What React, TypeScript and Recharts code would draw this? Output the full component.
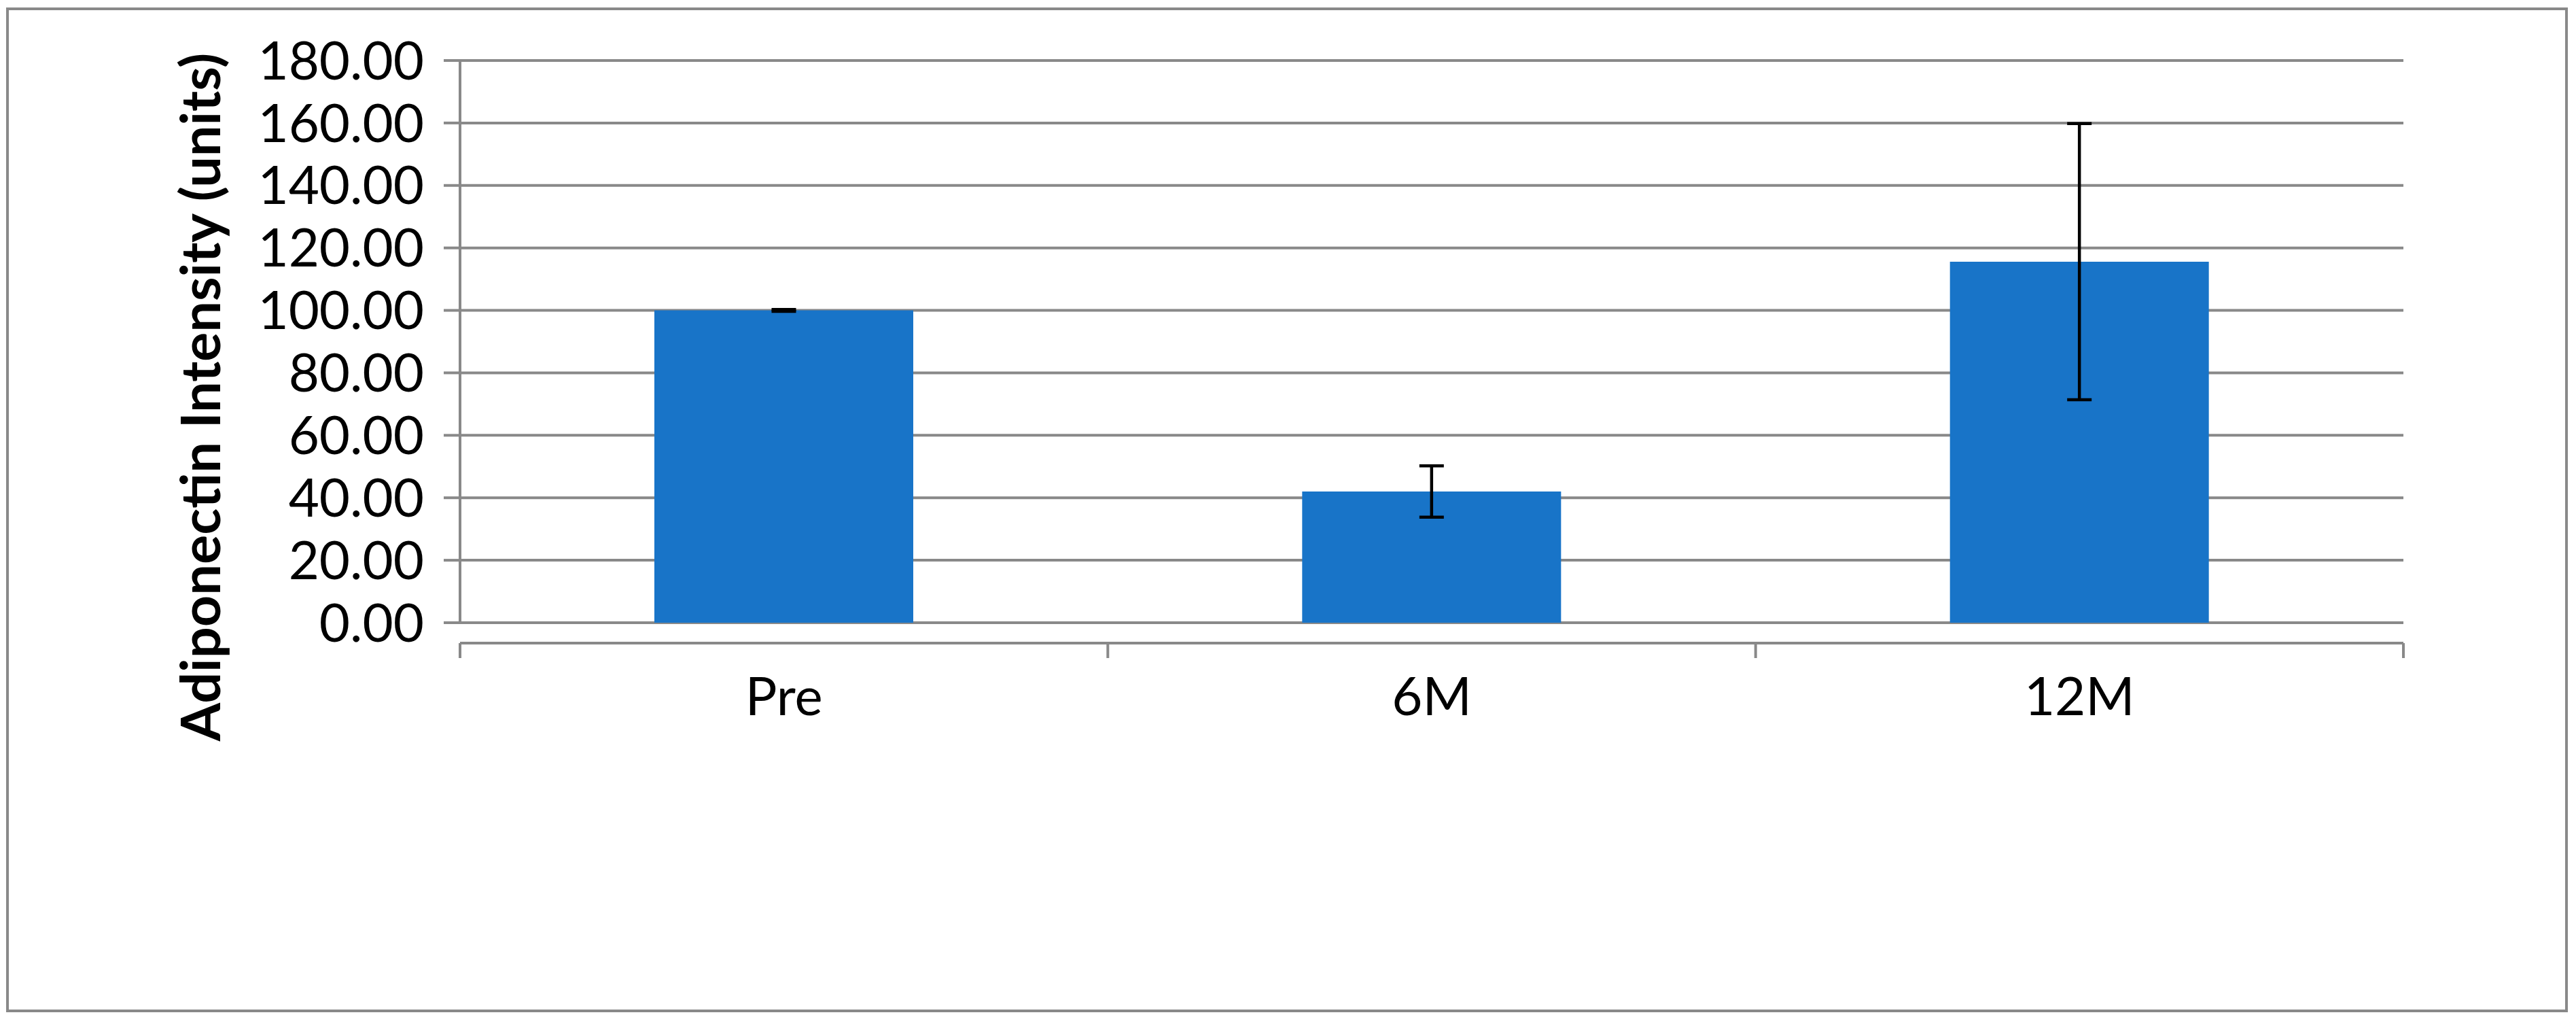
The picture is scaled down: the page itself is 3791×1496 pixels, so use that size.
import React from 'react';
import { BarChart, Bar, XAxis, YAxis, CartesianGrid, ErrorBar } from 'recharts';

const categories = ['Pre', '6M', '12M'];
const means = [100, 42.0, 115.6];
const errors = [0.3, 8.2, 44.2];
const yTicks = [0, 20, 40, 60, 80, 100, 120, 140, 160, 180];
const xPositions = [0, 0.5, 1, 1.5, 2, 2.5, 3];

const data = categories.map((name, i) => ({ name, pos: i + 0.5, value: means[i], err: errors[i] }));

const GRAY = '#898989';
const BLUE = '#1874C8';
const FONT = 'Lato, Carlito, Calibri, sans-serif';

function XTick(props: any) {
  const { x, y, payload } = props;
  const v = payload.value;
  if (Number.isInteger(v)) {
    return <line x1={x} y1={y} x2={x} y2={y + 22} stroke={GRAY} strokeWidth={4} />;
  }
  const idx = Math.floor(v);
  return (
    <text x={x} y={y + 106} textAnchor="middle" fontFamily={FONT} fontSize={78} fill="#000">
      {categories[idx]}
    </text>
  );
}

function YTitle() {
  return (
    <text
      transform="translate(324,584) rotate(-90)"
      textAnchor="middle"
      fontFamily={FONT}
      fontWeight="bold"
      fontSize={81}
      fill="#000"
    >
      Adiponectin Intensity (units)
    </text>
  );
}

export default function App() {
  return (
    <div style={{ position: 'absolute', left: 0, top: 0, width: 3791, height: 1496, background: '#fff' }}>
      <div
        style={{
          position: 'absolute',
          left: 9,
          top: 11,
          width: 3770,
          height: 1478,
          border: `4px solid ${GRAY}`,
          boxSizing: 'border-box',
        }}
      />
      <div style={{ position: 'absolute', left: 0, top: 0 }}>
        <BarChart
          width={3791}
          height={1496}
          data={data}
          margin={{ top: 89, right: 254, bottom: 0, left: 0 }}
          barCategoryGap="30%"
        >
          <CartesianGrid xAxisId="num" yAxisId="y" vertical={false} stroke={GRAY} strokeWidth={4} />
          <XAxis xAxisId="cat" dataKey="name" hide />
          <XAxis
            xAxisId="num"
            dataKey="pos"
            type="number"
            domain={[0, 3]}
            allowDataOverflow
            ticks={xPositions}
            interval={0}
            allowDecimals
            height={580}
            tickSize={0}
            tickMargin={0}
            tickLine={false}
            tick={<XTick />}
            axisLine={{ stroke: GRAY, strokeWidth: 4 }}
          />
          <YAxis
            yAxisId="y"
            domain={[0, 180]}
            ticks={yTicks}
            interval={0}
            width={677}
            tickSize={24}
            tickMargin={29}
            tickFormatter={(v: number) => v.toFixed(2)}
            tick={{ fontFamily: FONT, fontSize: 78, fill: '#000' }}
            tickLine={{ stroke: GRAY, strokeWidth: 4 }}
            axisLine={{ stroke: GRAY, strokeWidth: 4 }}
            label={<YTitle />}
          />
          <Bar xAxisId="cat" yAxisId="y" dataKey="value" fill={BLUE} isAnimationActive={false}>
            <ErrorBar dataKey="err" width={18} strokeWidth={4.5} stroke="#000" direction="y" />
          </Bar>
        </BarChart>
      </div>
    </div>
  );
}
